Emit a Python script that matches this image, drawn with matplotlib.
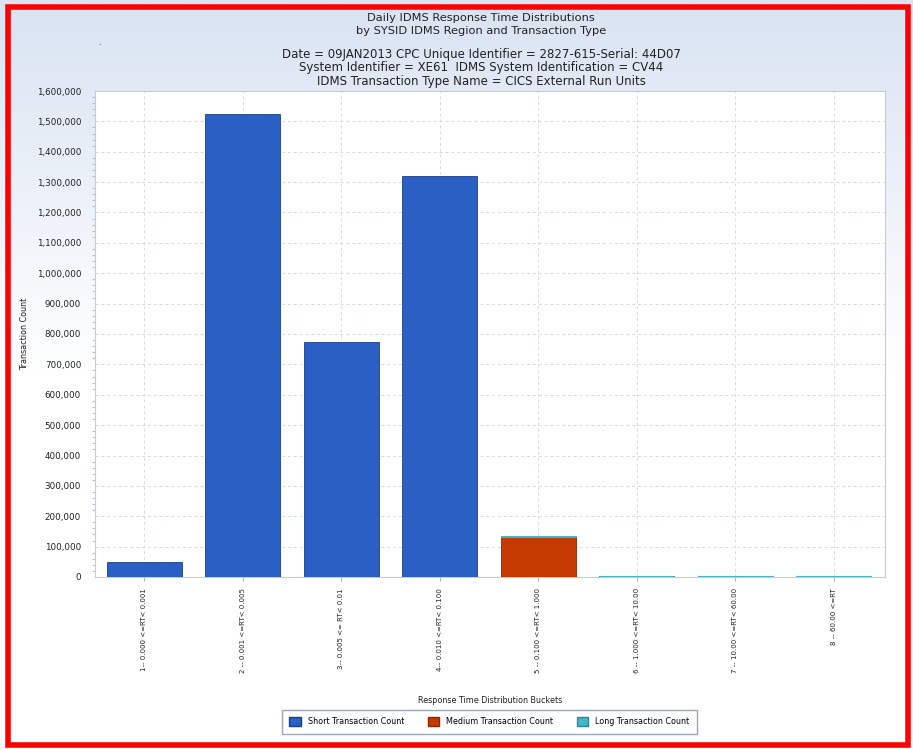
import matplotlib
matplotlib.use("Agg")
import matplotlib.pyplot as plt
import numpy as np
from matplotlib.patches import Rectangle, Patch
from matplotlib.colors import LinearSegmentedColormap
from matplotlib.ticker import FuncFormatter, MultipleLocator

# data
buckets = ["1-- 0.000 <=RT< 0.001", "2 -- 0.001 <=RT< 0.005", "3-- 0.005 <= RT< 0.01",
           "4-- 0.010 <=RT< 0.100", "5 -- 0.100 <=RT< 1.000", "6 -- 1.000 <=RT< 10.00",
           "7 -- 10.00 <=RT< 60.00", "8 -- 60.00 <=RT"]
short_cnt = [49000, 1523000, 773000, 1319000, 0, 0, 0, 0]
medium_cnt = [0, 0, 0, 0, 132000, 2500, 0, 0]
long_cnt = [0, 0, 0, 0, 1500, 1500, 1800, 1800]

titles = ["Daily IDMS Response Time Distributions",
          "by SYSID IDMS Region and Transaction Type",
          "",
          "Date = 09JAN2013 CPC Unique Identifier = 2827-615-Serial: 44D07",
          "System Identifier = XE61  IDMS System Identification = CV44",
          "IDMS Transaction Type Name = CICS External Run Units"]

c_short = "#2a5fc4"
c_med = "#c43a00"
c_long = "#45b4c4"

fig = plt.figure(figsize=(9.13, 7.49), dpi=100)

# background gradient
bg = fig.add_axes([0, 0, 1, 1], zorder=-10)
grad = np.linspace(0, 1, 256).reshape(-1, 1)
cm = LinearSegmentedColormap.from_list("bg", ["#d9e3f2", "#ffffff", "#ffffff"])
bg.imshow(grad, aspect="auto", cmap=cm, extent=[0, 1, 0, 1], origin="upper")
bg.axis("off")

# red frame
fig.patches.append(Rectangle((0.009, 0.006), 0.985, 0.984, transform=fig.transFigure,
                             fill=False, edgecolor="#ff0000", linewidth=4))

ax = fig.add_axes([95 / 913, 1 - 577 / 749, 790 / 913, 486 / 749])
ax.set_facecolor("white")
x = np.arange(len(buckets))
w = 0.76


def lw(vals, width):
    return [width if v > 0 else 0 for v in vals]


ax.bar(x, short_cnt, w, color=c_short, edgecolor="#1a3f90", linewidth=lw(short_cnt, 0.6), zorder=3)
ax.bar(x, medium_cnt, w, bottom=short_cnt, color=c_med, edgecolor="#8a2800",
       linewidth=lw(medium_cnt, 0.6), zorder=3)
bot2 = np.array(short_cnt) + np.array(medium_cnt)
ax.bar(x, long_cnt, w, bottom=bot2, color=c_long, edgecolor=c_long,
       linewidth=lw(long_cnt, 0.8), zorder=3)

ax.set_xlim(-0.5, 7.52)
ax.set_ylim(0, 1600000)
ax.yaxis.set_major_locator(MultipleLocator(100000))
ax.yaxis.set_minor_locator(MultipleLocator(20000))
ax.yaxis.set_major_formatter(FuncFormatter(lambda v, p: f"{int(v):,}"))
ax.set_xticks(x)
ax.set_xticklabels(buckets, rotation=90, fontsize=5.0, color="#222222")
ax.tick_params(axis="y", labelsize=6.3, labelcolor="#222222", length=0, pad=10)
ax.tick_params(axis="y", which="minor", length=2, color="#aab4c0")
ax.tick_params(axis="x", length=3, color="#aab4c0", pad=5)
ax.grid(True, linestyle=(0, (3, 3)), color="#d6dbe2", linewidth=0.7, zorder=0)
for s in ["left", "bottom", "right", "top"]:
    ax.spines[s].set_color("#c4ccd6")
    ax.spines[s].set_linewidth(0.8)

ax.set_ylabel("Transaction Count", fontsize=5.8, color="#222222")
ax.yaxis.set_label_coords(-0.083, 0.5)
ax.set_xlabel("Response Time Distribution Buckets", fontsize=5.8, color="#222222")
ax.xaxis.set_label_coords(0.5, -0.245)

fig.text(0.527, 0.982, titles[0] + "\n" + titles[1], ha="center", va="top",
         fontsize=8.2, color="#222222", linespacing=1.3)
fig.text(0.527, 0.936, "\n".join(titles[3:]), ha="center", va="top",
         fontsize=8.5, color="#222222", linespacing=1.05)
fig.text(0.107, 0.94, ".", fontsize=6, color="#222222")

# legend
handles = [Patch(facecolor=c_short, edgecolor="#1a3f90", label="Short Transaction Count"),
           Patch(facecolor=c_med, edgecolor="#8a2800", label="Medium Transaction Count"),
           Patch(facecolor=c_long, edgecolor="#2a8a99", label="Long Transaction Count")]
fig.legend(handles=handles, loc="center", bbox_to_anchor=(0.536, 0.0365), ncol=3,
           fontsize=5.8, frameon=True, fancybox=False, edgecolor="#8892a0",
           handlelength=1.4, handleheight=1.4, handletextpad=0.9,
           columnspacing=2.9, borderpad=0.9, borderaxespad=0)

fig.savefig("out.png", dpi=100)
